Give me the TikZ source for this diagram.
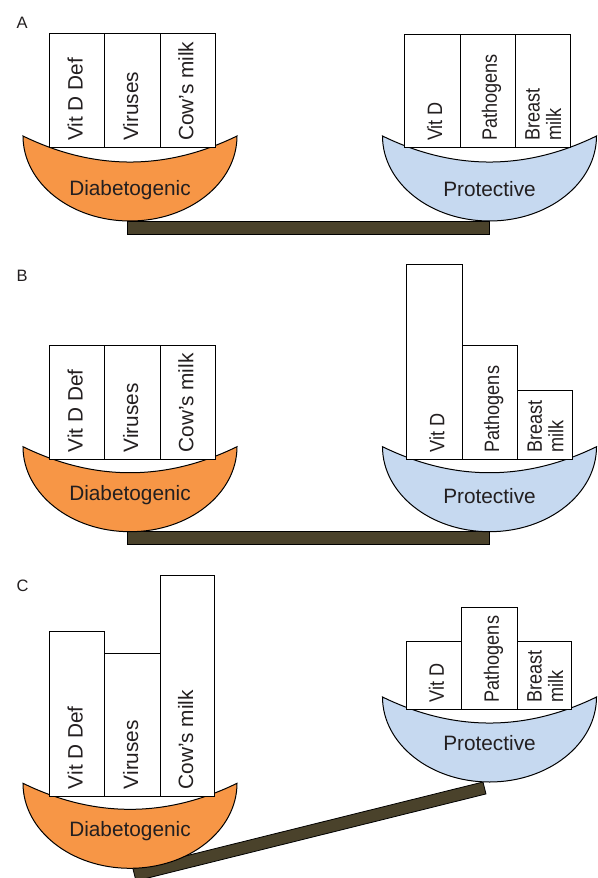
\documentclass[tikz,border=0pt]{standalone}
\usepackage{fontspec}
\setmainfont{Liberation Sans}
\definecolor{orangepan}{RGB}{247,150,70}
\definecolor{bluepan}{RGB}{198,217,240}
\definecolor{beamc}{RGB}{74,66,43}
\definecolor{textc}{RGB}{35,31,32}
\tikzset{
  outline/.style={draw=black, line width=1pt},
  boxshape/.style={outline, fill=white},
  beamshape/.style={draw=black, fill=beamc, line width=0.8pt},
  panlbl/.style={font=\fontsize{20.8}{24}\selectfont, text=textc, inner sep=0pt, anchor=base},
  boxlbl/.style={font=\fontsize{20.8}{21}\selectfont, text=textc, inner sep=0pt, rotate=90, anchor=base west},
  rboxlbl/.style={boxlbl, xscale=0.87},
  letter/.style={font=\fontsize{16.5}{19}\selectfont, text=textc, inner sep=0pt, anchor=base west},
}
\newcommand{\drawpan}[3]{%
  \begin{scope}[shift={(#1,#2)}]
    \draw[outline, fill=#3] (-107,0) .. controls (-107,46.9) and (-59.1,85) .. (0,85)
      .. controls (59.1,85) and (107,46.9) .. (107,0)
      .. controls (35.7,34.7) and (-35.7,34.7) .. (-107,0) -- cycle;
  \end{scope}}
\begin{document}
\begin{tikzpicture}[x=1pt,y=-1pt]
\useasboundingbox (0,0) rectangle (597,878);

% ---------------- Panel A ----------------
\node[letter] (labA) at (16.5,28.3) {A};
\draw[beamshape] (127.7,221.7) rectangle (489,234);
\drawpan{130}{136}{orangepan}
\drawpan{489.5}{136}{bluepan}
\draw[boxshape] (49,33.3) rectangle (104.3,147.7);
\draw[boxshape] (104.3,33.3) rectangle (160,147.7);
\draw[boxshape] (160,33.3) rectangle (215,147.7);
\node[boxlbl] (aVDD) at (82.5,141) {Vit D Def};
\node[boxlbl] (aVir) at (138,141) {Viruses};
\node[boxlbl] (aCow) at (193.3,141) {Cow’s milk};
\draw[boxshape] (404.3,34) rectangle (460,147.7);
\draw[boxshape] (460,34) rectangle (515,147.7);
\draw[boxshape] (515,34) rectangle (570,147.7);
\node[rboxlbl] (aVD) at (442.2,141) {Vit D};
\node[rboxlbl] (aPat) at (496.8,141) {Pathogens};
\node[rboxlbl] (aBM) at (561,141) {\begin{tabular}[b]{@{}l@{}}Breast\\milk\end{tabular}};
\node[panlbl] (aDia) at (130,195.5) {Diabetogenic};
\node[panlbl] (aPro) at (489.5,196.5) {Protective};

% ---------------- Panel B ----------------
\node[letter] (labB) at (16.5,281.7) {B};
\draw[beamshape] (127.7,531.7) rectangle (489,544.3);
\drawpan{130}{446.7}{orangepan}
\drawpan{489.5}{446.7}{bluepan}
\draw[boxshape] (49,345) rectangle (104.3,459.3);
\draw[boxshape] (104.3,345) rectangle (160,459.3);
\draw[boxshape] (160,345) rectangle (215,459.3);
\node[boxlbl] (bVDD) at (82.5,452.6) {Vit D Def};
\node[boxlbl] (bVir) at (138,452.6) {Viruses};
\node[boxlbl] (bCow) at (193.3,452.6) {Cow’s milk};
\draw[boxshape] (406.5,264) rectangle (462,459.3);
\draw[boxshape] (462,345) rectangle (517.3,459.3);
\draw[boxshape] (517.3,390.3) rectangle (572.3,459.3);
\node[rboxlbl] (bVD) at (444.3,452.6) {Vit D};
\node[rboxlbl] (bPat) at (499,452.6) {Pathogens};
\node[rboxlbl] (bBM) at (563.3,452.6) {\begin{tabular}[b]{@{}l@{}}Breast\\milk\end{tabular}};
\node[panlbl] (bDia) at (130,500.7) {Diabetogenic};
\node[panlbl] (bPro) at (489.5,503) {Protective};

% ---------------- Panel C ----------------
\node[letter] (labC) at (16.5,591.5) {C};
\draw[beamshape] (133,869) -- (483,782) -- (485.97,793.94) -- (135.97,880.94) -- cycle;
\drawpan{130}{783.3}{orangepan}
\drawpan{489.5}{697}{bluepan}
\draw[boxshape] (49,631.3) rectangle (104.3,796);
\draw[boxshape] (104.3,653.7) rectangle (160,796);
\draw[boxshape] (160,575.7) rectangle (214.7,796);
\node[boxlbl] (cVDD) at (82.5,789.3) {Vit D Def};
\node[boxlbl] (cVir) at (138,789.3) {Viruses};
\node[boxlbl] (cCow) at (193.2,789.3) {Cow’s milk};
\draw[boxshape] (406,641) rectangle (461.7,709.3);
\draw[boxshape] (461.7,607.3) rectangle (517.3,709.3);
\draw[boxshape] (517.3,641) rectangle (571.7,709.3);
\node[rboxlbl] (cVD) at (443.9,702.6) {Vit D};
\node[rboxlbl] (cPat) at (498.8,702.6) {Pathogens};
\node[rboxlbl] (cBM) at (563,702.6) {\begin{tabular}[b]{@{}l@{}}Breast\\milk\end{tabular}};
\node[panlbl] (cDia) at (130,836.7) {Diabetogenic};
\node[panlbl] (cPro) at (489.5,750) {Protective};
\end{tikzpicture}
\end{document}
